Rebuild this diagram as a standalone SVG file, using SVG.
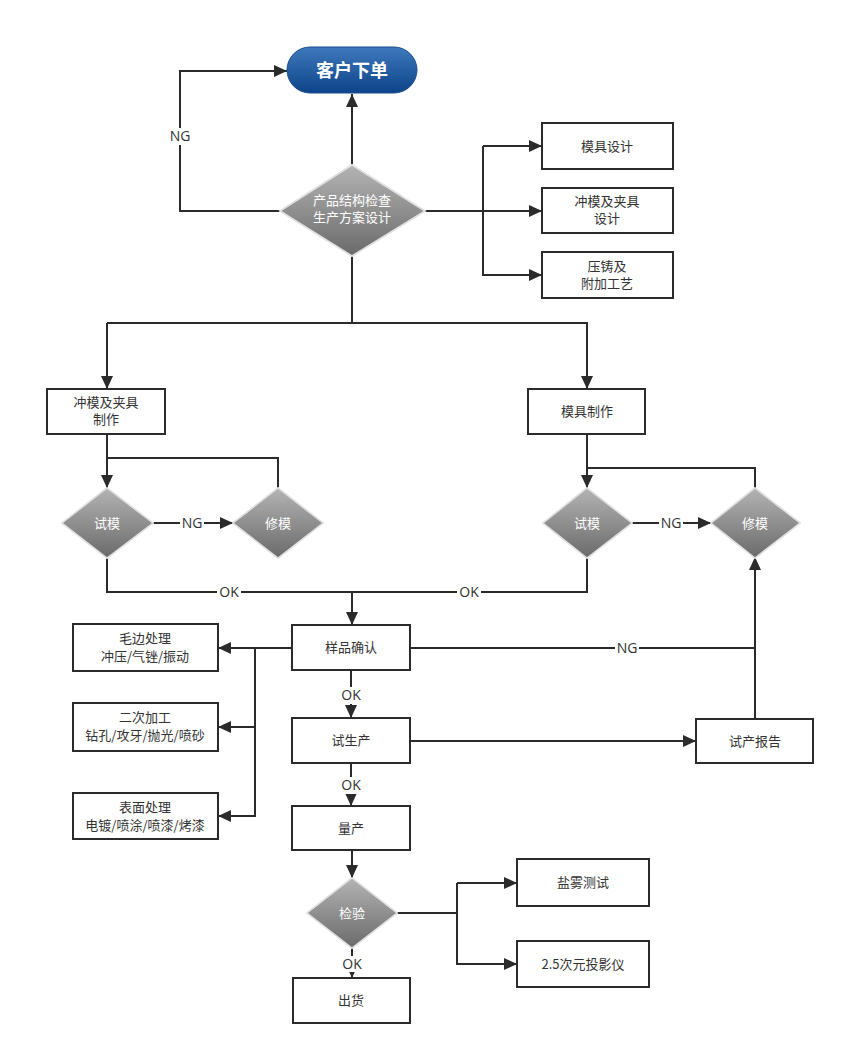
<svg xmlns="http://www.w3.org/2000/svg" width="845" height="1055" viewBox="0 0 845 1055">
<defs>
<linearGradient id="gBlue" x1="0" y1="0" x2="0" y2="1">
<stop offset="0" stop-color="#3f78bd"/>
<stop offset="1" stop-color="#0d4489"/>
</linearGradient>
<linearGradient id="gGray" x1="0" y1="0" x2="0" y2="1">
<stop offset="0" stop-color="#b4b4b4"/>
<stop offset="1" stop-color="#6a6a6a"/>
</linearGradient>
<marker id="arr" markerUnits="userSpaceOnUse" markerWidth="14" markerHeight="12" refX="13" refY="6" orient="auto">
<path d="M0,0 L13,6 L0,12 Z" fill="#2b2b2b"/>
</marker>
<filter id="glow" x="-20%" y="-20%" width="140%" height="140%">
<feGaussianBlur in="SourceAlpha" stdDeviation="1.5"/>
<feFlood flood-color="#d8d8d8"/>
<feComposite operator="in" in2="SourceAlpha"/>
<feMerge><feMergeNode/><feMergeNode in="SourceGraphic"/></feMerge>
</filter>
</defs>
<style>
.box{fill:#fff;stroke:#2b2b2b;stroke-width:2}
.dia{fill:url(#gGray);stroke:#e2e2e2;stroke-width:1.5}
.t{font-family:"Microsoft YaHei","Noto Sans CJK SC",sans-serif;font-size:13px;fill:#333;text-anchor:middle}
.tw{font-family:"Microsoft YaHei","Noto Sans CJK SC",sans-serif;font-size:13px;fill:#fff;text-anchor:middle}
.ln{fill:none;stroke:#2b2b2b;stroke-width:2}
.la{fill:none;stroke:#2b2b2b;stroke-width:2;marker-end:url(#arr)}
.lbl{font-family:"Open Sans","Noto Sans",sans-serif;font-size:14px;fill:#333;text-anchor:middle}
.bg{fill:#fff}
</style>
<rect width="845" height="1055" fill="#fff"/>

<g id="connectors">
<path class="la" d="M280,211 H180 V71 H287"/>
<path class="la" d="M352,165 V94"/>
<path class="ln" d="M425,211 H483"/>
<path class="la" d="M483,146 V275 H542"/>
<path class="la" d="M483,146 H542"/>
<path class="la" d="M483,211 H542"/>
<path class="ln" d="M352,255 V323"/>
<path class="la" d="M107,323 H587 V389"/>
<path class="la" d="M107,323 V389"/>
<path class="la" d="M107,434 V488"/>
<path class="ln" d="M107,458 H278 V488"/>
<path class="la" d="M153,523 H233"/>
<path class="la" d="M587,434 V488"/>
<path class="ln" d="M587,468 H755 V488"/>
<path class="la" d="M632,523 H711"/>
<path class="ln" d="M107,557 V592 H587 V557"/>
<path class="la" d="M352,592 V625"/>
<path class="ln" d="M411,648 H755"/>
<path class="la" d="M755,719 V557"/>
<path class="la" d="M292,648 H218"/>
<path class="la" d="M255,648 V816 H218"/>
<path class="la" d="M255,727 H218"/>
<path class="la" d="M351,670 V718"/>
<path class="la" d="M411,741 H696"/>
<path class="la" d="M351,763 V806"/>
<path class="la" d="M352,850 V878"/>
<path class="ln" d="M397,913 H457"/>
<path class="la" d="M457,883 V964 H517"/>
<path class="la" d="M457,883 H517"/>
<path class="la" d="M352,947 V978"/>
<rect class="bg" x="167" y="128" width="26" height="17"/>
<text class="lbl" x="180" y="141">NG</text>
<rect class="bg" x="180" y="515" width="24" height="17"/>
<text class="lbl" x="192" y="528">NG</text>
<rect class="bg" x="659" y="515" width="24" height="17"/>
<text class="lbl" x="671" y="528">NG</text>
<rect class="bg" x="217" y="584" width="24" height="17"/>
<text class="lbl" x="229" y="597">OK</text>
<rect class="bg" x="457" y="584" width="24" height="17"/>
<text class="lbl" x="469" y="597">OK</text>
<rect class="bg" x="615" y="640" width="24" height="17"/>
<text class="lbl" x="627" y="653">NG</text>
<rect class="bg" x="339" y="687" width="24" height="17"/>
<text class="lbl" x="351" y="700">OK</text>
<rect class="bg" x="339" y="777" width="24" height="17"/>
<text class="lbl" x="351" y="790">OK</text>
<rect class="bg" x="340" y="956" width="24" height="16"/>
<text class="lbl" x="352" y="969">OK</text>
</g>

<g id="n_order">
<rect x="287" y="47" width="130" height="46" rx="23" fill="url(#gBlue)" stroke="#1b4f8f" stroke-width="1"/>
<text x="352" y="77" font-family="Microsoft YaHei,Noto Sans CJK SC,sans-serif" font-size="18" font-weight="bold" fill="#fff" text-anchor="middle">客户下单</text>
</g>

<g id="n_check">
<polygon class="dia" filter="url(#glow)" points="352,165 425,211 352,256 280,211"/>
<text class="tw" x="352" y="205">产品结构检查</text>
<text class="tw" x="352" y="222">生产方案设计</text>
</g>

<g id="n_mold_design">
<rect class="box" x="542" y="123" width="131" height="46"/>
<text class="t" x="607" y="151">模具设计</text>
</g>
<g id="n_die_design">
<rect class="box" x="542" y="188" width="131" height="45"/>
<text class="t" x="607" y="206">冲模及夹具</text>
<text class="t" x="607" y="223">设计</text>
</g>
<g id="n_casting">
<rect class="box" x="542" y="252" width="131" height="46"/>
<text class="t" x="607" y="271">压铸及</text>
<text class="t" x="607" y="288">附加工艺</text>
</g>

<g id="n_die_make">
<rect class="box" x="47" y="389" width="118" height="45"/>
<text class="t" x="106" y="407">冲模及夹具</text>
<text class="t" x="106" y="424">制作</text>
</g>
<g id="n_mold_make">
<rect class="box" x="528" y="389" width="117" height="45"/>
<text class="t" x="587" y="416">模具制作</text>
</g>

<g id="n_trial_l">
<polygon class="dia" filter="url(#glow)" points="107,488 153,523 107,558 62,523"/>
<text class="tw" x="107" y="528">试模</text>
</g>
<g id="n_fix_l">
<polygon class="dia" filter="url(#glow)" points="278,488 323,523 278,558 233,523"/>
<text class="tw" x="278" y="528">修模</text>
</g>
<g id="n_trial_r">
<polygon class="dia" filter="url(#glow)" points="587,488 632,523 587,558 543,523"/>
<text class="tw" x="587" y="528">试模</text>
</g>
<g id="n_fix_r">
<polygon class="dia" filter="url(#glow)" points="755,488 800,523 755,558 711,523"/>
<text class="tw" x="755" y="528">修模</text>
</g>

<g id="n_sample">
<rect class="box" x="292" y="625" width="118" height="45"/>
<text class="t" x="351" y="652">样品确认</text>
</g>
<g id="n_burr">
<rect class="box" x="73" y="624" width="145" height="47"/>
<text class="t" x="145" y="643">毛边处理</text>
<text class="t" x="145" y="661">冲压/气锉/振动</text>
</g>
<g id="n_machining">
<rect class="box" x="73" y="703" width="145" height="48"/>
<text class="t" x="145" y="722">二次加工</text>
<text class="t" x="145" y="740">钻孔/攻牙/抛光/喷砂</text>
</g>
<g id="n_surface">
<rect class="box" x="73" y="793" width="145" height="46"/>
<text class="t" x="145" y="812">表面处理</text>
<text class="t" x="145" y="830">电镀/喷涂/喷漆/烤漆</text>
</g>

<g id="n_trial_prod">
<rect class="box" x="292" y="718" width="118" height="45"/>
<text class="t" x="351" y="745">试生产</text>
</g>
<g id="n_report">
<rect class="box" x="696" y="719" width="117" height="44"/>
<text class="t" x="755" y="746">试产报告</text>
</g>
<g id="n_mass">
<rect class="box" x="292" y="806" width="118" height="44"/>
<text class="t" x="351" y="833">量产</text>
</g>

<g id="n_inspect">
<polygon class="dia" filter="url(#glow)" points="352,878 397,913 352,948 307,913"/>
<text class="tw" x="352" y="918">检验</text>
</g>
<g id="n_salt">
<rect class="box" x="517" y="859" width="132" height="47"/>
<text class="t" x="583" y="887">盐雾测试</text>
</g>
<g id="n_projector">
<rect class="box" x="517" y="941" width="132" height="46"/>
<text class="t" x="583" y="969">2.5次元投影仪</text>
</g>
<g id="n_ship">
<rect class="box" x="293" y="978" width="117" height="45"/>
<text class="t" x="351" y="1005">出货</text>
</g>
</svg>
